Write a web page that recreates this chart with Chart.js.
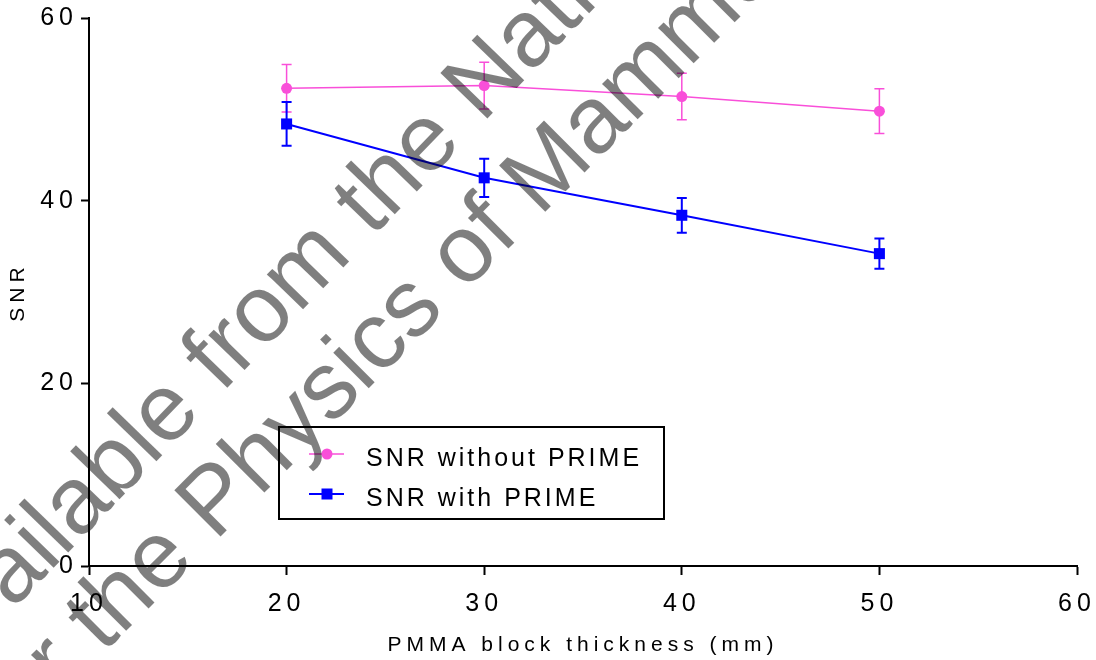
<!DOCTYPE html>
<html>
<head>
<meta charset="utf-8">
<title>SNR vs PMMA thickness</title>
<script src="https://cdn.jsdelivr.net/npm/chart.js@4/dist/chart.umd.min.js"></script>
<style>
  body { margin: 0; background: #fff; }
  #wrap { width: 1096px; height: 660px; position: relative; }
</style>
</head>
<body>
<div id="wrap"><canvas id="chartSnr"></canvas></div>
<script>
// values
const thickness = [20, 30, 40, 50];
const snrWithout = [52.3, 52.6, 51.4, 49.8];
const errWithout = [2.6, 2.55, 2.55, 2.45];
const snrWith = [48.4, 42.5, 38.4, 34.2];
const errWith = [2.4, 2.1, 1.9, 1.65];

const xTicks = [10, 20, 30, 40, 50, 60];
const yTicks = [0, 20, 40, 60];

const FONT = '"Liberation Sans", Arial, sans-serif';
const PINK = "#f94fd9";
const BLUE = "#0000ff";

// canvas has no letter-spacing option in Chart.js, set it on the context
const spacing = {
    id: "spacing",
    beforeLayout(chart) { chart.ctx.letterSpacing = "5px"; },
    beforeDraw(chart) { chart.ctx.letterSpacing = "5px"; },
    beforeDatasetsDraw(chart) { chart.ctx.letterSpacing = "0px"; }
};

// error bars, drawn under the lines and points
const errorBars = {
    id: "errorBars",
    beforeDatasetsDraw(chart) {
        const ctx = chart.ctx;
        const xs = chart.scales.x, ys = chart.scales.y;
        ctx.save();
        chart.data.datasets.forEach(ds => {
            ctx.strokeStyle = ds.borderColor;
            ctx.lineWidth = ds.errWidth;
            ds.data.forEach((p, i) => {
                const x = xs.getPixelForValue(p.x);
                const top = ys.getPixelForValue(p.y + ds.errors[i]);
                const bot = ys.getPixelForValue(p.y - ds.errors[i]);
                ctx.beginPath();
                ctx.moveTo(x, top); ctx.lineTo(x, bot);
                ctx.moveTo(x - 5, top); ctx.lineTo(x + 5, top);
                ctx.moveTo(x - 5, bot); ctx.lineTo(x + 5, bot);
                ctx.stroke();
            });
        });
        ctx.restore();
    }
};

// boxed legend inside the plot + the grey watermark on top
const overlay = {
    id: "overlay",
    afterDraw(chart) {
        const ctx = chart.ctx;
        const a = chart.chartArea;
        const x0 = a.left + 190, y0 = a.top + 409;

        ctx.save();
        ctx.fillStyle = "#fff";
        ctx.fillRect(x0, y0, 385, 92);
        ctx.strokeStyle = "#000";
        ctx.lineWidth = 2;
        ctx.strokeRect(x0, y0, 385, 92);

        chart.data.datasets.forEach((ds, i) => {
            const my = y0 + 27 + i * 40;
            ctx.strokeStyle = ds.borderColor;
            ctx.lineWidth = ds.borderWidth;
            ctx.beginPath();
            ctx.moveTo(x0 + 30, my); ctx.lineTo(x0 + 65, my);
            ctx.stroke();
            ctx.fillStyle = ds.borderColor;
            if (ds.pointStyle === "rect") {
                ctx.fillRect(x0 + 48 - 5.5, my - 5.5, 11, 11);
            } else {
                ctx.beginPath();
                ctx.arc(x0 + 48, my, 5.5, 0, Math.PI * 2);
                ctx.fill();
            }
            ctx.fillStyle = "#000";
            ctx.font = "25px " + FONT;
            ctx.letterSpacing = "3px";
            ctx.textAlign = "left";
            ctx.textBaseline = "middle";
            ctx.fillText(ds.label, x0 + 87, my + 5);
        });

        ctx.fillStyle = "rgba(0,0,0,0.5)";
        ctx.font = "95px " + FONT;
        ctx.letterSpacing = "0px";
        ctx.textBaseline = "alphabetic";
        const lines = [
            { pre: "Available from the ", rest: "National Coordinating Centre", x: 482, y: 124, ang: -46 },
            { pre: "for the ", rest: "Physics of Mammography", x: 215, y: 542, ang: -45 }
        ];
        lines.forEach(l => {
            ctx.save();
            ctx.translate(l.x, l.y);
            ctx.rotate(l.ang * Math.PI / 180);
            const w = ctx.measureText(l.pre).width;
            ctx.fillText(l.pre + l.rest, -w, 0);
            ctx.restore();
        });
        ctx.restore();
    }
};

const ctxSnr = document.getElementById("chartSnr").getContext("2d");

new Chart(ctxSnr, {
    type: "line",
    data: {
        datasets: [
            {
                label: "SNR without PRIME",
                data: thickness.map((t, i) => ({ x: t, y: snrWithout[i] })),
                errors: errWithout,
                borderColor: PINK,
                backgroundColor: PINK,
                borderWidth: 1.5,
                errWidth: 1.5,
                pointStyle: "circle",
                pointRadius: 5.5,
                pointBorderWidth: 0,
                tension: 0
            },
            {
                label: "SNR with PRIME",
                data: thickness.map((t, i) => ({ x: t, y: snrWith[i] })),
                errors: errWith,
                borderColor: BLUE,
                backgroundColor: BLUE,
                borderWidth: 2,
                errWidth: 2,
                pointStyle: "rect",
                pointRadius: 7.8,
                pointBorderWidth: 0,
                tension: 0
            }
        ]
    },
    options: {
        responsive: true,
        maintainAspectRatio: false,
        animation: false,
        layout: { padding: { left: 0, right: 19, top: 18, bottom: 0 } },
        plugins: {
            legend: { display: false },
            tooltip: { enabled: false }
        },
        scales: {
            x: {
                type: "linear",
                min: 10,
                max: 60,
                afterBuildTicks: axis => { axis.ticks = xTicks.map(v => ({ value: v })); },
                afterFit: axis => {
                    axis.height = 94;
                    axis.paddingLeft = 0;
                    axis.paddingRight = 0;
                },
                grid: { drawOnChartArea: false, tickLength: 9, tickWidth: 2, tickColor: "#000" },
                border: { color: "#000", width: 2 },
                ticks: { color: "#000", font: { family: FONT, size: 25 }, padding: 14, maxRotation: 0 },
                title: {
                    display: true,
                    text: "PMMA block thickness (mm)",
                    color: "#000",
                    font: { family: FONT, size: 21 },
                    padding: { top: 0, bottom: 2 }
                }
            },
            y: {
                min: 0,
                max: 60,
                afterBuildTicks: axis => { axis.ticks = yTicks.map(v => ({ value: v })); },
                afterFit: axis => { axis.width = 89; },
                grid: { drawOnChartArea: false, tickLength: 8, tickWidth: 2, tickColor: "#000" },
                border: { color: "#000", width: 2 },
                ticks: { color: "#000", font: { family: FONT, size: 25 }, padding: 3 },
                title: {
                    display: true,
                    text: "SNR",
                    color: "#000",
                    font: { family: FONT, size: 21 },
                    padding: { top: 6, bottom: 0 }
                }
            }
        }
    },
    plugins: [spacing, errorBars, overlay]
});
</script>
</body>
</html>
